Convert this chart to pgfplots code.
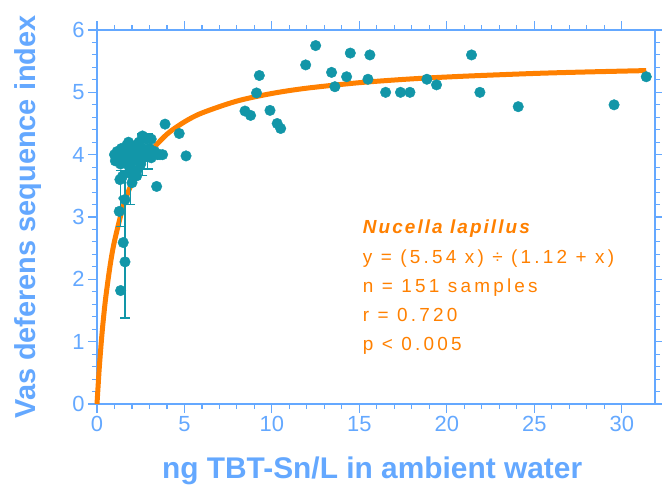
\documentclass[border=0pt]{standalone}
\usepackage{pgfplots}
\pgfplotsset{compat=1.18}
\usepackage{fontspec}
\setmainfont{Liberation Sans}
\newfontfamily\annfont[LetterSpace=17]{Liberation Sans}
\newfontfamily\annfontb[LetterSpace=11]{Liberation Sans}
\definecolor{axblue}{RGB}{100,168,255}
\definecolor{tealpt}{RGB}{18,150,168}
\definecolor{orng}{RGB}{255,128,0}
\begin{document}
\begin{tikzpicture}
\begin{axis}[
 at={(97bp,95bp)}, anchor=south west,
 width=558bp, height=374bp, scale only axis,
 xmin=0, xmax=31.9, ymin=0, ymax=6,
 xtick={0,5,...,30}, minor x tick num=4,
 ytick={0,1,...,6}, minor y tick num=4,
 tick align=outside,
 major tick length=9bp, minor tick length=5bp,
 axis line style={axblue, line width=1.3bp},
 tick style={axblue, line width=1.1bp},
 tick label style={font=\fontsize{22}{26}\selectfont, text=axblue},
 /pgf/number format/assume math mode=true,
 xlabel={ng TBT-Sn/L in ambient water},
 ylabel={Vas deferens sequence index},
 label style={font=\bfseries\fontsize{29}{34}\selectfont, text=axblue},
 xlabel style={at={(axis description cs:0.493,-0.198)}, anchor=base, font=\bfseries\fontsize{30}{34}\selectfont},
 ylabel style={at={(axis description cs:-0.111,0.5)}, anchor=base},
 clip=false,
]
\addplot[orng, line width=5bp, smooth, no marks] coordinates {
(0,0) (0.1,0.454) (0.15,0.654) (0.25,1.011) (0.35,1.319) (0.5,1.710) (0.75,2.222)
(1,2.613) (1.5,3.172) (2,3.551) (2.5,3.826) (3,4.034) (4,4.328) (5,4.526) (6,4.669)
(8,4.860) (10,4.982) (12,5.067) (15,5.155) (18,5.216) (21,5.259) (25,5.303) (28,5.327) (31.4,5.349)
};
\addplot[only marks, mark=*, mark size=5.3pt, color=tealpt] coordinates {
(1.0,4.0) (1.05,3.9) (1.15,4.05) (1.2,3.95) (1.3,4.0) (1.35,3.85) (1.4,4.1) (1.5,3.95)
(1.55,4.05) (1.6,3.9) (1.7,4.15) (1.75,4.0) (1.8,4.2) (1.9,3.95) (1.95,4.05) (2.0,4.1)
(2.1,3.9) (2.15,4.0) (2.2,4.15) (2.3,3.95) (2.35,4.05) (2.4,4.2) (2.5,4.0) (2.6,4.1)
(2.65,3.95) (2.7,4.05) (2.8,4.25) (2.9,4.0) (3.0,4.1) (3.1,3.95) (3.2,4.0) (3.3,4.05)
(3.45,4.0) (3.6,4.0) (3.75,4.0) (1.9,3.7) (2.0,3.55) (2.3,3.75) (2.5,3.85) (1.45,3.65)
(3.1,4.25) (2.6,4.3) (1.85,3.8)
(1.27,3.09) (1.5,2.59) (1.6,2.28) (1.35,1.82) (1.6,3.28) (1.31,3.6) (2.27,3.66)
(3.89,4.49) (4.7,4.34) (5.09,3.98) (3.41,3.49)
(8.46,4.70) (8.78,4.63) (9.12,4.99) (9.28,5.27) (9.89,4.71) (10.3,4.50) (10.5,4.42)
(11.93,5.44) (12.5,5.75) (13.41,5.32) (13.6,5.09) (14.27,5.25) (14.48,5.63) (15.49,5.21)
(15.6,5.6) (16.5,5.0) (17.35,5.0) (17.89,5.0) (18.86,5.21) (19.41,5.12) (21.41,5.6)
(21.89,5.0) (24.08,4.77) (29.56,4.8) (31.4,5.25)
};
\addplot[only marks, mark=none, color=tealpt,
 error bars/.cd, y dir=both, y explicit,
 error bar style={line width=1.3bp, tealpt},
 error mark=-,
 error mark options={rotate=90, tealpt, mark size=5pt, line width=1.3bp}]
 coordinates {
 (1.6,2.56) +- (0,1.18)
 (2.6,4.0) +- (0,0.33)
 (1.35,3.3) +- (0,0.45)
 (2.9,4.05) +- (0,0.28)
 (1.9,3.6) +- (0,0.4)
};
\node[anchor=base west, text=orng, font=\annfontb\bfseries\itshape\fontsize{19}{23}\selectfont] at (axis cs:15.0,2.735) {Nucella lapillus};
\node[anchor=base west, text=orng, font=\annfont\fontsize{19}{23}\selectfont] at (axis cs:15.0,2.253) {y = (5.54 x) ÷ (1.12 + x)};
\node[anchor=base west, text=orng, font=\annfont\fontsize{19}{23}\selectfont] at (axis cs:15.0,1.786) {n = 151 samples};
\node[anchor=base west, text=orng, font=\annfont\fontsize{19}{23}\selectfont] at (axis cs:15.0,1.319) {r = 0.720};
\node[anchor=base west, text=orng, font=\annfont\fontsize{19}{23}\selectfont] at (axis cs:15.0,0.853) {p < 0.005};
\end{axis}
\pgfresetboundingbox
\path (0,0) rectangle (662bp,499bp);
\end{tikzpicture}
\end{document}
